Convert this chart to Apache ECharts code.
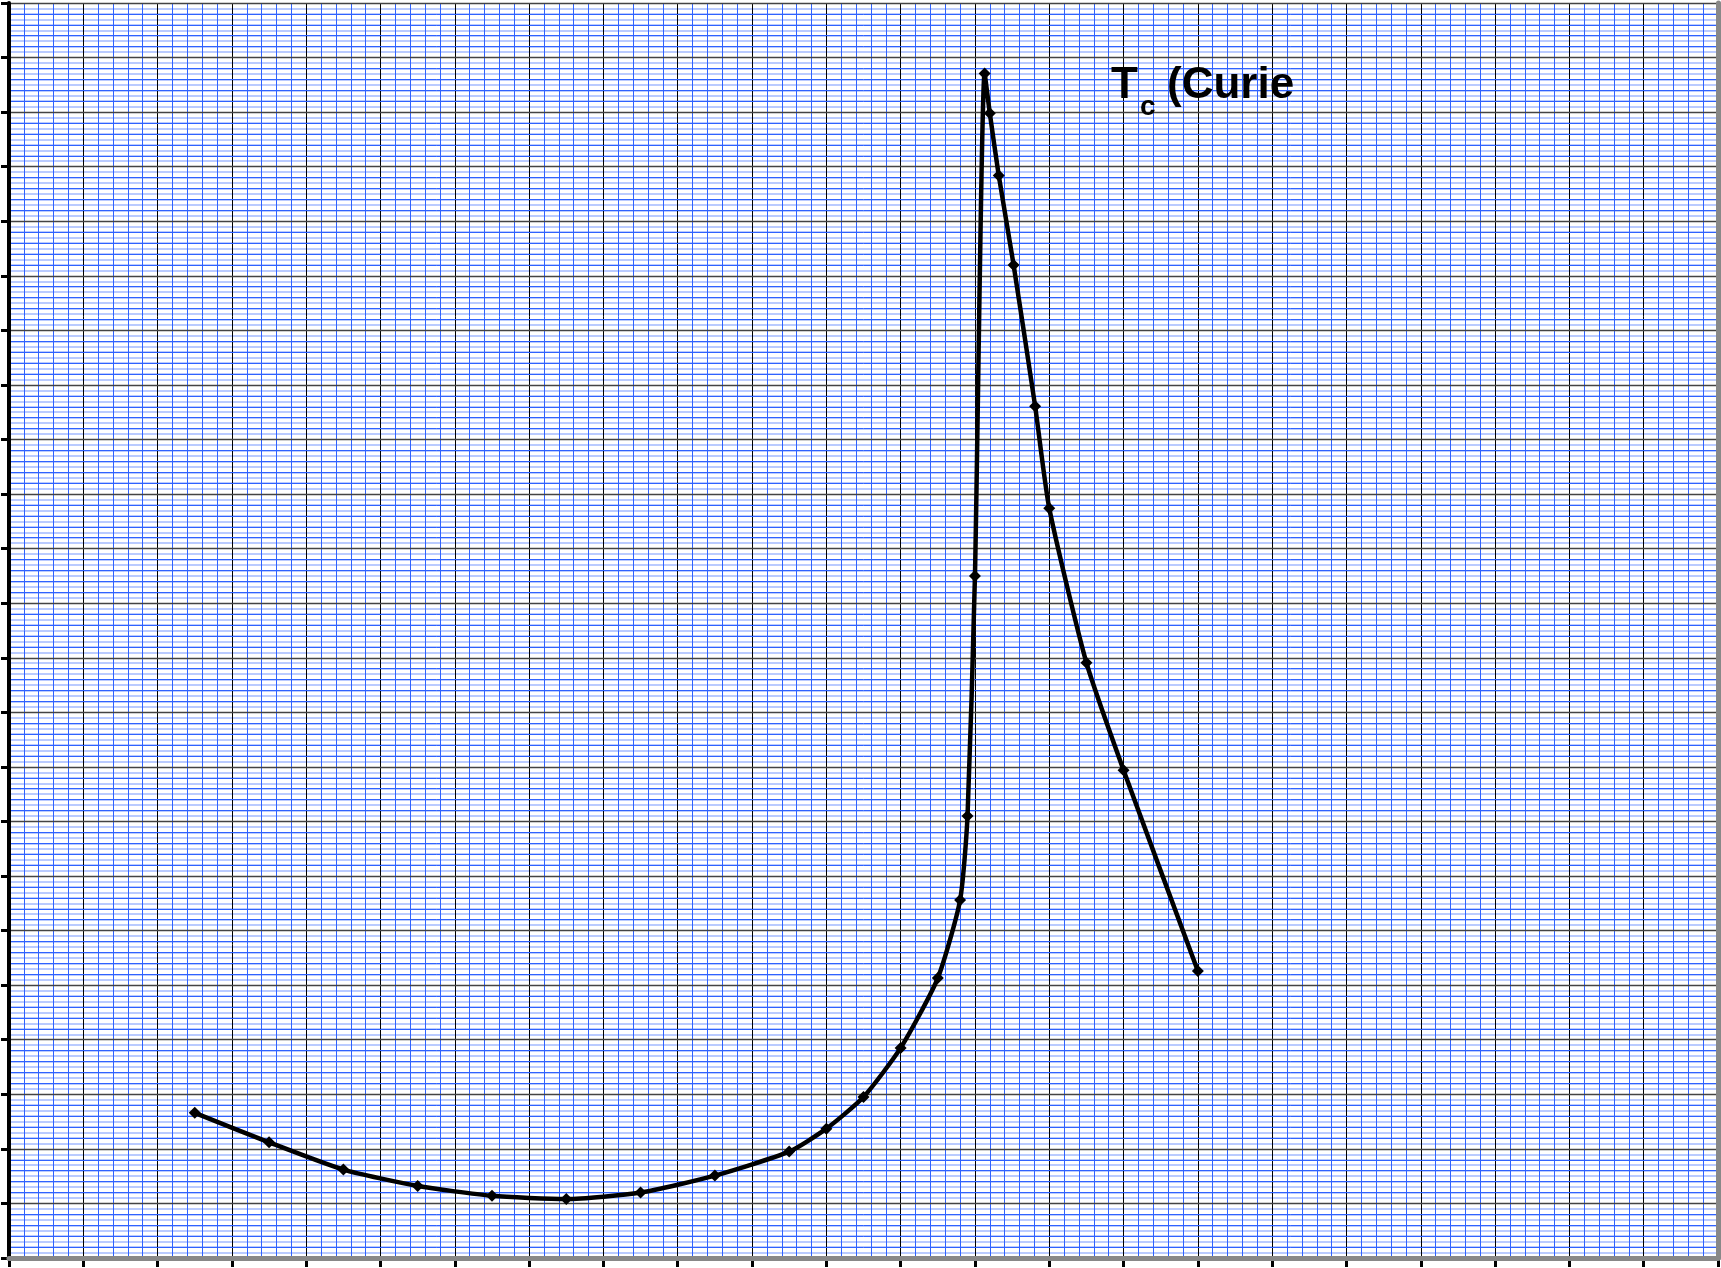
<!DOCTYPE html>
<html>
<head>
<meta charset="utf-8">
<script src="https://cdn.jsdelivr.net/npm/echarts@6/dist/echarts.min.js"></script>
<style>
  html, body { margin: 0; padding: 0; background: #fff; }
  #main { width: 1721px; height: 1268px; }
</style>
</head>
<body>
<div id="main"></div>
<script>
// temperature axis in grid units (no labels on the original)
var temps = [2.5, 3.5, 4.5, 5.5, 6.5, 7.5, 8.5, 9.5, 10.5, 11.0, 11.5, 12.0, 12.5, 12.8, 12.9, 13.0,
  13.13, 13.2, 13.32, 13.52, 13.81, 14.0, 14.5, 15.0, 16.0];
var values = [2.66, 2.12, 1.62, 1.32, 1.14, 1.08, 1.2, 1.51, 1.95, 2.37, 2.95, 3.85, 5.13, 6.56, 8.1, 12.5,
  21.71, 20.98, 19.84, 18.2, 15.61, 13.74, 10.91, 8.94, 5.26];
var axisMax = 23;

var chart = echarts.init(document.getElementById('main'), null, { renderer: 'canvas' });

var points = temps.map(function (t, i) { return [t, values[i]]; });

var option = {
  animation: false,
  backgroundColor: '#fff',
  grid: { left: 9, right: 3, top: 3, bottom: 10 },
  xAxis: [
    {
      type: 'value', min: 0, max: axisMax, interval: 1, position: 'bottom', z: 2,
      axisLine: { lineStyle: { color: '#000', width: 4 } },
      axisTick: { show: true, length: 9, lineStyle: { color: '#000', width: 3 } },
      axisLabel: { show: false },
      splitLine: { show: true, lineStyle: { color: '#000', width: 1 } },
      minorTick: { show: false, splitNumber: 5 },
      minorSplitLine: { show: true, lineStyle: { color: '#2f62ff', width: 1 } }
    },
    {
      // grey frame on top
      type: 'value', min: 0, max: axisMax, interval: 1, position: 'top', z: 5,
      axisLine: { lineStyle: { color: '#888', width: 5 } },
      axisTick: { show: false }, axisLabel: { show: false }, splitLine: { show: false }
    }
  ],
  yAxis: [
    {
      type: 'value', min: 0, max: axisMax, interval: 1, position: 'left', z: 3,
      axisLine: { show: true, lineStyle: { color: '#000', width: 4 } },
      axisTick: { show: true, length: 8, lineStyle: { color: '#000', width: 3 } },
      axisLabel: { show: false },
      splitLine: { show: true, lineStyle: { color: '#444', width: 1.3 } },
      minorTick: { show: false, splitNumber: 5 },
      minorSplitLine: { show: true, lineStyle: { color: '#2f62ff', width: 1 } }
    },
    {
      // lighter in-between lines
      type: 'value', min: 0, max: axisMax, interval: 1, position: 'right', z: 1,
      axisLine: { show: false }, axisTick: { show: false }, axisLabel: { show: false },
      splitLine: { show: false },
      minorTick: { show: false, splitNumber: 10 },
      minorSplitLine: { show: true, lineStyle: { color: '#a4bbff', width: 1.5 } }
    },
    {
      type: 'value', min: 0, max: axisMax, interval: 1, position: 'right', z: 5,
      axisLine: { show: true, lineStyle: { color: '#888', width: 5 } },
      axisTick: { show: false }, axisLabel: { show: false }, splitLine: { show: false }
    }
  ],
  graphic: [
    { type: 'text', left: 1111, top: 64, z: 20,
      style: { text: 'T', font: 'bold 44px "Liberation Sans", Arial, sans-serif', fill: '#000' } },
    { type: 'text', left: 1140, top: 93, z: 20,
      style: { text: 'c', font: 'bold 28px "Liberation Sans", Arial, sans-serif', fill: '#000' } },
    { type: 'text', left: 1167, top: 64, z: 20,
      style: { text: '(Curie', font: 'bold 44px "Liberation Sans", Arial, sans-serif', fill: '#000' } }
  ],
  series: [
    {
      type: 'line',
      xAxisIndex: 0,
      yAxisIndex: 0,
      z: 10,
      data: points,
      smooth: 0.2,
      symbol: 'diamond',
      symbolSize: 12,
      itemStyle: { color: '#000' },
      lineStyle: { color: '#000', width: 4.5 }
    }
  ]
};

chart.setOption(option);
</script>
</body>
</html>
